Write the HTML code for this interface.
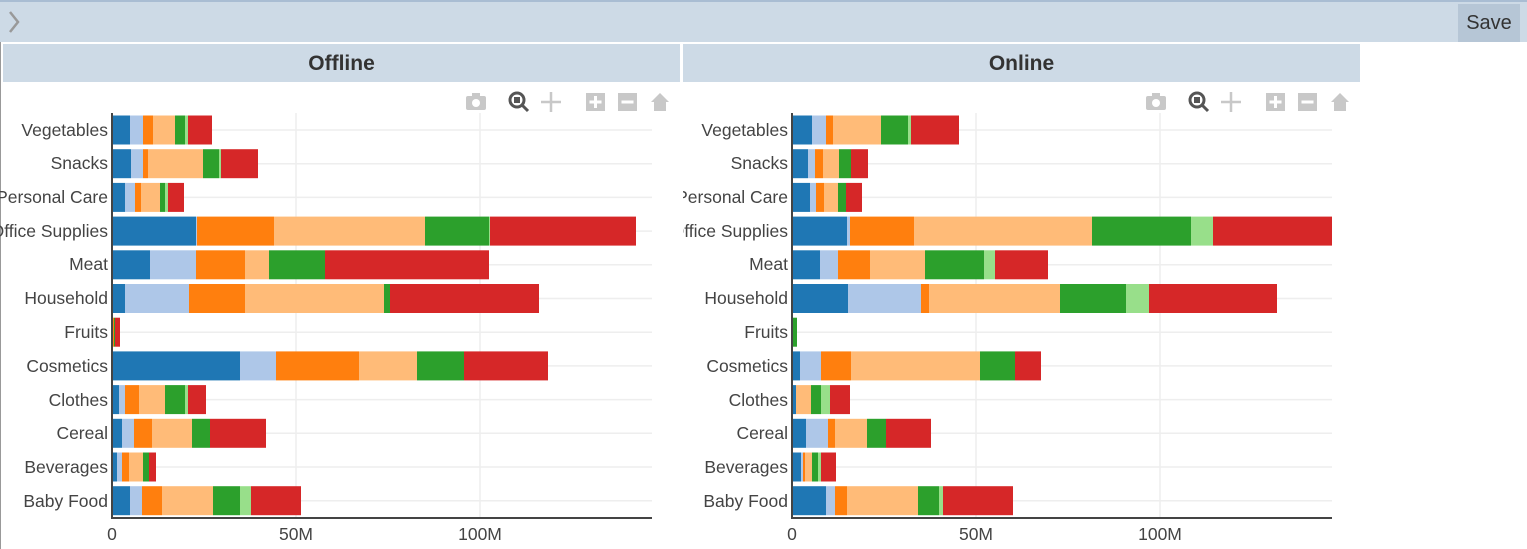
<!DOCTYPE html>
<html><head><meta charset="utf-8"><style>
body{margin:0;width:1527px;height:549px;overflow:hidden;background:#fff;font-family:"Liberation Sans",sans-serif;position:relative}
.top{position:absolute;left:0;top:0;width:1527px;height:42px;background:#cddae6;border-top:2px solid #a9bdd3;box-sizing:border-box}
.save{position:absolute;left:1458px;top:2px;width:62px;height:38px;background:#b6c6d6;font-size:20px;color:#333;line-height:38px;text-align:center}
.hdr{position:absolute;top:44px;height:38px;background:#cddae6;font-weight:bold;font-size:21px;color:#333;text-align:center;line-height:39px}
.lb{position:absolute;left:0;top:42px;width:1px;height:507px;background:#999}
</style></head><body>
<div class="top"><svg width="20" height="30" style="position:absolute;left:6px;top:6px"><path d="M4 4 L12 14 L4 24" stroke="#999" stroke-width="2.5" fill="none"/></svg><div class="save">Save</div></div>
<div class="lb"></div>
<div class="hdr" style="left:3px;width:677px">Offline</div>
<div class="hdr" style="left:683px;width:677px">Online</div>
<svg id="s" width="1527" height="549" style="position:absolute;left:0;top:0" font-family="Liberation Sans, sans-serif">
<defs><clipPath id="c1"><rect x="0" y="84" width="680" height="465"/></clipPath><clipPath id="c2"><rect x="683" y="84" width="677" height="465"/></clipPath></defs>
<g id="g1" clip-path="url(#c1)" font-size="17.5" fill="#444" text-anchor="end">
<text x="108" y="136">Vegetables</text><text x="108" y="169">Snacks</text><text x="108" y="203">Personal Care</text><text x="108" y="237">Office Supplies</text><text x="108" y="270">Meat</text><text x="108" y="304">Household</text><text x="108" y="338">Fruits</text><text x="108" y="372">Cosmetics</text><text x="108" y="406">Clothes</text><text x="108" y="439">Cereal</text><text x="108" y="473">Beverages</text><text x="108" y="507">Baby Food</text>
</g>
<g id="g2" clip-path="url(#c2)" font-size="17.5" fill="#444" text-anchor="end">
<text x="788" y="136">Vegetables</text><text x="788" y="169">Snacks</text><text x="788" y="203">Personal Care</text><text x="788" y="237">Office Supplies</text><text x="788" y="270">Meat</text><text x="788" y="304">Household</text><text x="788" y="338">Fruits</text><text x="788" y="372">Cosmetics</text><text x="788" y="406">Clothes</text><text x="788" y="439">Cereal</text><text x="788" y="473">Beverages</text><text x="788" y="507">Baby Food</text>
</g>
<g font-size="17.5" fill="#444" text-anchor="middle">
<text x="112" y="540">0</text><text x="296" y="540">50M</text><text x="480" y="540">100M</text>
<text x="792" y="540">0</text><text x="976" y="540">50M</text><text x="1160" y="540">100M</text>
</g>
</svg>
<script>
var C=["#1f77b4","#aec7e8","#ff7f0e","#ffbb78","#2ca02c","#98df8a","#d62728"];
var A=[[130,143,153,175,185,188,212],[131,143,148,203,219,221,258],[125,135,141,160,165,168,184],[196,197,274,425,489,490,636],[150,196,245,269,325,325,489],[125,189,245,384,390,390,539],[113,113,114,114,115,115,120],[240,276,359,417,464,464,548],[119,125,139,165,185,188,206],[122,134,152,192,210,210,266],[117,122,129,143,149,149,156],[130,142,162,213,240,251,301]];
var B=[[812,826,833,881,908,911,959],[808,815,823,839,851,851,868],[810,816,824,838,846,846,862],[847,850,914,1092,1191,1213,1332],[820,838,870,925,984,995,1048],[848,921,929,1060,1126,1149,1277],[792,792,792,792,797,797,797],[800,821,851,980,1015,1015,1041],[796,796,796,811,821,830,850],[806,828,835,867,886,886,931],[801,803,805,812,818,821,836],[826,835,847,918,939,943,1013]];
var s=document.getElementById("s"),h="";
function chart(x0,data,ic){
 h+='<line x1="'+(x0+184)+'" y1="113" x2="'+(x0+184)+'" y2="518" stroke="#eee" stroke-width="1.5"/><line x1="'+(x0+368)+'" y1="113" x2="'+(x0+368)+'" y2="518" stroke="#eee" stroke-width="1.5"/>';
 for(var i=0;i<12;i++){var y=130+i*33.7;h+='<line x1="'+x0+'" y1="'+y+'" x2="'+(x0+540)+'" y2="'+y+'" stroke="#eee" stroke-width="1.5"/>';
  var p=x0;for(var j=0;j<7;j++){var e=data[i][j];if(e>p){h+='<rect x="'+p+'" y="'+(y-14.5)+'" width="'+(e-p)+'" height="29" fill="'+C[j]+'"/>';p=e;}}}
 h+='<line x1="'+x0+'" y1="113" x2="'+x0+'" y2="519" stroke="#444" stroke-width="2"/><line x1="'+x0+'" y1="518" x2="'+(x0+540)+'" y2="518" stroke="#444" stroke-width="2"/>';
 var g="#c8c8c8";
 h+='<rect x="'+(ic-10)+'" y="96" width="20" height="14" rx="2" fill="'+g+'"/><rect x="'+(ic-4)+'" y="93" width="8" height="4" fill="'+g+'"/><circle cx="'+ic+'" cy="103" r="4" fill="#fff"/>';
 h+='<circle cx="'+(ic+41)+'" cy="100" r="7" fill="none" stroke="#555" stroke-width="3"/><rect x="'+(ic+38)+'" y="97" width="6" height="6" fill="#555"/><line x1="'+(ic+46)+'" y1="105" x2="'+(ic+52)+'" y2="111" stroke="#555" stroke-width="3"/>';
 h+='<path d="M'+(ic+75)+' 92 V112 M'+(ic+65)+' 102 H'+(ic+85)+'" stroke="'+g+'" stroke-width="2.5"/>';
 h+='<rect x="'+(ic+110)+'" y="93" width="19" height="18" fill="'+g+'"/><path d="M'+(ic+119.5)+' 96 V108 M'+(ic+113.5)+' 102 H'+(ic+125.5)+'" stroke="#fff" stroke-width="3"/>';
 h+='<rect x="'+(ic+142)+'" y="93" width="19" height="18" fill="'+g+'"/><path d="M'+(ic+145.5)+' 102 H'+(ic+157.5)+'" stroke="#fff" stroke-width="3"/>';
 h+='<path d="M'+(ic+175)+' 102 L'+(ic+184)+' 93 L'+(ic+193)+' 102 H'+(ic+190)+' V111 H'+(ic+178)+' V102 Z" fill="'+g+'"/>';
}
chart(112,A,476);chart(792,B,1156);
s.insertAdjacentHTML("afterbegin",h);
</script>
</body></html>
